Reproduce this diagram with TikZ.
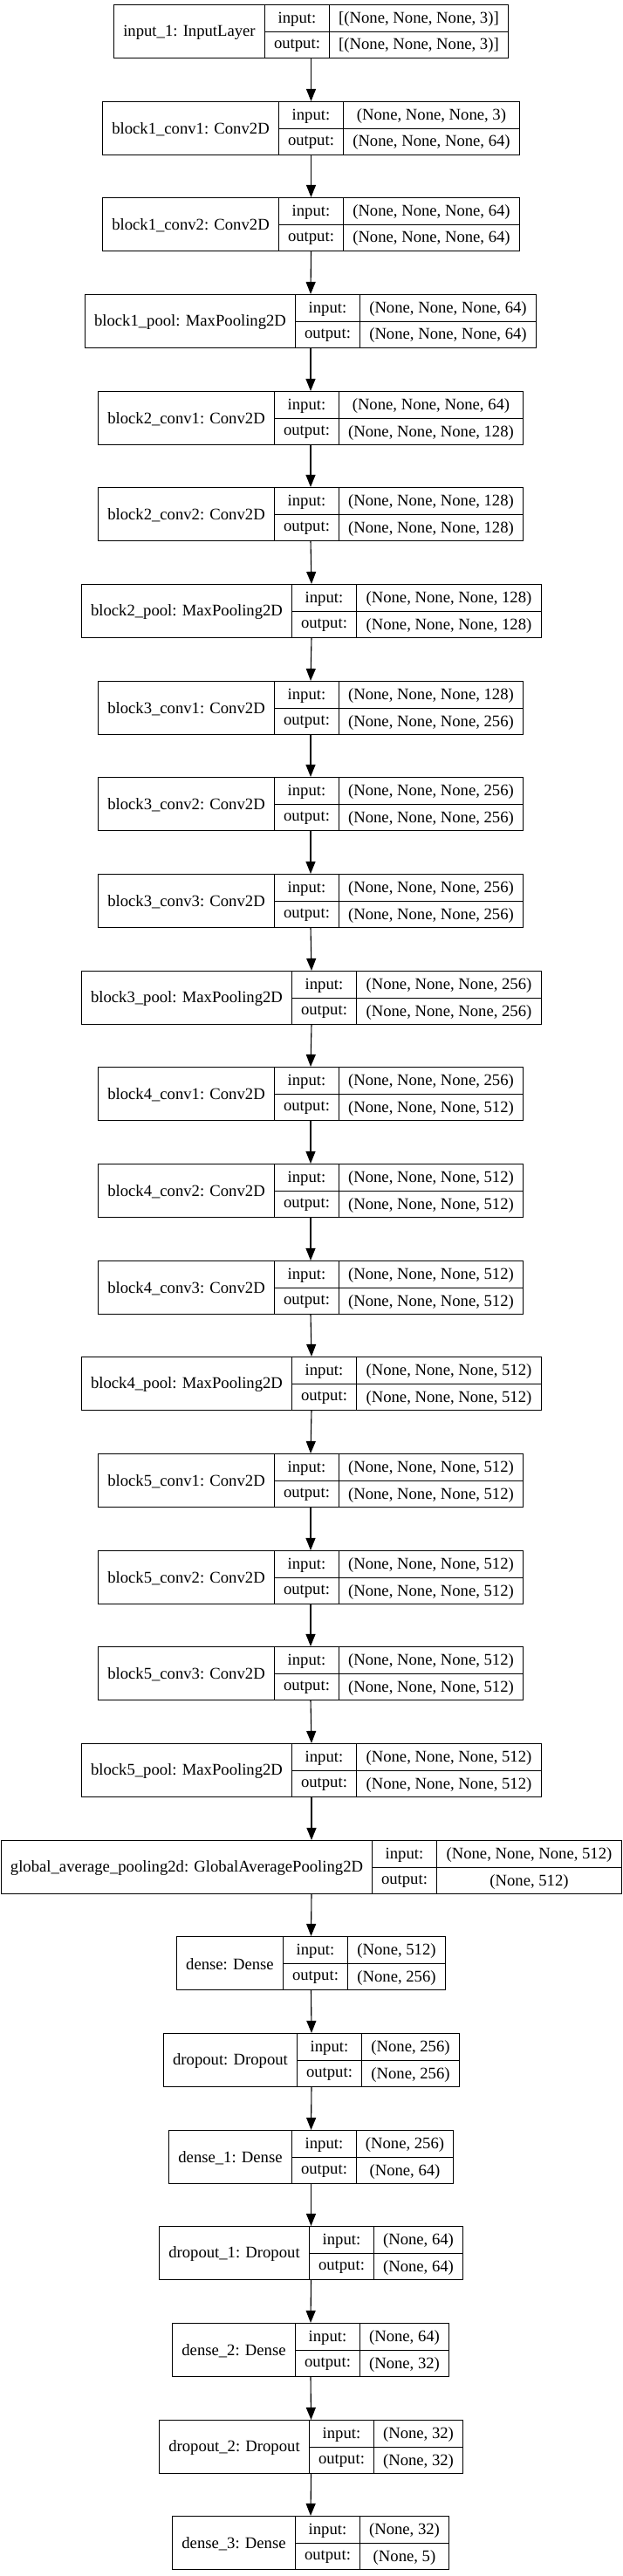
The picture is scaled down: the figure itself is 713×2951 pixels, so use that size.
\documentclass[tikz,border=0pt]{standalone}
\usepackage{fontspec}
\setmainfont{Liberation Serif}
\usetikzlibrary{arrows.meta}
\newcommand\kfont{\fontsize{18.67}{22}\selectfont}
\newdimen\kL \newdimen\kIO \newdimen\kV \newdimen\kW
\newsavebox\kbox
\makeatletter
\let\kstrip\strip@pt
\makeatother
\tikzset{
  kline/.style={line width=1.25pt, draw=black},
  kanchor/.style={rectangle, inner sep=0pt, outer sep=0pt, anchor=north west},
  ktext/.style={font=\kfont, inner sep=0pt, anchor=center},
  karrow/.style={line width=1.1pt, -{Triangle[length=14pt,width=11pt]}, shorten >=0.6pt}
}
% list of layers: id, label, input shape, output shape, row index
\newcommand\knodes{%
\kitem{n0}{input\_1: InputLayer}{[(None, None, None, 3)]}{[(None, None, None, 3)]}{0}%
\kitem{n1}{block1\_conv1: Conv2D}{(None, None, None, 3)}{(None, None, None, 64)}{1}%
\kitem{n2}{block1\_conv2: Conv2D}{(None, None, None, 64)}{(None, None, None, 64)}{2}%
\kitem{n3}{block1\_pool: MaxPooling2D}{(None, None, None, 64)}{(None, None, None, 64)}{3}%
\kitem{n4}{block2\_conv1: Conv2D}{(None, None, None, 64)}{(None, None, None, 128)}{4}%
\kitem{n5}{block2\_conv2: Conv2D}{(None, None, None, 128)}{(None, None, None, 128)}{5}%
\kitem{n6}{block2\_pool: MaxPooling2D}{(None, None, None, 128)}{(None, None, None, 128)}{6}%
\kitem{n7}{block3\_conv1: Conv2D}{(None, None, None, 128)}{(None, None, None, 256)}{7}%
\kitem{n8}{block3\_conv2: Conv2D}{(None, None, None, 256)}{(None, None, None, 256)}{8}%
\kitem{n9}{block3\_conv3: Conv2D}{(None, None, None, 256)}{(None, None, None, 256)}{9}%
\kitem{n10}{block3\_pool: MaxPooling2D}{(None, None, None, 256)}{(None, None, None, 256)}{10}%
\kitem{n11}{block4\_conv1: Conv2D}{(None, None, None, 256)}{(None, None, None, 512)}{11}%
\kitem{n12}{block4\_conv2: Conv2D}{(None, None, None, 512)}{(None, None, None, 512)}{12}%
\kitem{n13}{block4\_conv3: Conv2D}{(None, None, None, 512)}{(None, None, None, 512)}{13}%
\kitem{n14}{block4\_pool: MaxPooling2D}{(None, None, None, 512)}{(None, None, None, 512)}{14}%
\kitem{n15}{block5\_conv1: Conv2D}{(None, None, None, 512)}{(None, None, None, 512)}{15}%
\kitem{n16}{block5\_conv2: Conv2D}{(None, None, None, 512)}{(None, None, None, 512)}{16}%
\kitem{n17}{block5\_conv3: Conv2D}{(None, None, None, 512)}{(None, None, None, 512)}{17}%
\kitem{n18}{block5\_pool: MaxPooling2D}{(None, None, None, 512)}{(None, None, None, 512)}{18}%
\kitem{n19}{global\_average\_pooling2d: GlobalAveragePooling2D}{(None, None, None, 512)}{(None, 512)}{19}%
\kitem{n20}{dense: Dense}{(None, 512)}{(None, 256)}{20}%
\kitem{n21}{dropout: Dropout}{(None, 256)}{(None, 256)}{21}%
\kitem{n22}{dense\_1: Dense}{(None, 256)}{(None, 64)}{22}%
\kitem{n23}{dropout\_1: Dropout}{(None, 64)}{(None, 64)}{23}%
\kitem{n24}{dense\_2: Dense}{(None, 64)}{(None, 32)}{24}%
\kitem{n25}{dropout\_2: Dropout}{(None, 32)}{(None, 32)}{25}%
\kitem{n26}{dense\_3: Dense}{(None, 32)}{(None, 5)}{26}%
}
% measuring pass (outside the picture, where the real font is active)
\newcommand\kmeasure[5]{%
  \sbox\kbox{\kfont #2}\kL=\wd\kbox
  \sbox\kbox{\kfont output:}\kIO=\wd\kbox
  \sbox\kbox{\kfont #3}\kV=\wd\kbox
  \sbox\kbox{\kfont #4}\kW=\wd\kbox
  \ifdim\kW>\kV \kV=\kW\fi
  \advance\kL by 21.33pt \advance\kIO by 21.33pt \advance\kV by 21.33pt
  \expandafter\xdef\csname kL@#1\endcsname{\kstrip\kL}%
  \expandafter\xdef\csname kIO@#1\endcsname{\kstrip\kIO}%
  \expandafter\xdef\csname kV@#1\endcsname{\kstrip\kV}%
}
% drawing pass (coordinates snapped to pixel centres)
\newcommand\kerasnode[5]{%
  \pgfmathsetmacro\kwl{\csname kL@#1\endcsname}%
  \pgfmathsetmacro\kwio{\csname kIO@#1\endcsname}%
  \pgfmathsetmacro\kwv{\csname kV@#1\endcsname}%
  \pgfmathsetmacro\ktot{\kwl+\kwio+\kwv}%
  \pgfmathsetmacro\kleft{round(356.5-\ktot/2-0.5)+0.5}%
  \pgfmathsetmacro\ka{round(\kleft-0.5+\kwl)+0.5}%
  \pgfmathsetmacro\kb{round(\ka-0.5+\kwio)+0.5}%
  \pgfmathsetmacro\kright{round(\kleft-0.5+\ktot)+0.5}%
  \pgfmathsetmacro\ktop{round(5.5+110.67*#5-0.5)+0.5}%
  \pgfmathsetmacro\kbot{\ktop+61}%
  \pgfmathsetmacro\kmid{\ktop+31}%
  \pgfmathsetmacro\kwid{\kright-\kleft}%
  \node[kanchor, minimum width=\kwid pt, minimum height=61pt] (#1) at (\kleft,\ktop) {};
  \draw[kline] (\kleft,\ktop) rectangle (\kright,\kbot);
  \draw[kline] (\ka,\ktop) -- (\ka,\kbot);
  \draw[kline] (\kb,\ktop) -- (\kb,\kbot);
  \draw[kline] (\ka,\kmid) -- (\kright,\kmid);
  \node[ktext] (#1-l) at ({(\kleft+\ka)/2},{\kmid+0.5}) {#2};
  \node[ktext] (#1-i) at ({(\ka+\kb)/2},{(\ktop+\kmid)/2+1}) {input:};
  \node[ktext] (#1-o) at ({(\ka+\kb)/2},{(\kmid+\kbot)/2+1}) {output:};
  \node[ktext] (#1-iv) at ({(\kb+\kright)/2},{(\ktop+\kmid)/2+1}) {#3};
  \node[ktext] (#1-ov) at ({(\kb+\kright)/2},{(\kmid+\kbot)/2+1}) {#4};
}
\begin{document}
\let\kitem\kmeasure
\knodes
\begin{tikzpicture}[x=1pt,y=-1pt]
\useasboundingbox (0,0) rectangle (713,2951);
\let\kitem\kerasnode
\knodes
\foreach \i in {0,...,25}{
  \pgfmathtruncatemacro\j{\i+1}
  \draw[karrow] (n\i.south) -- (n\j.north);
}
\end{tikzpicture}
\end{document}
